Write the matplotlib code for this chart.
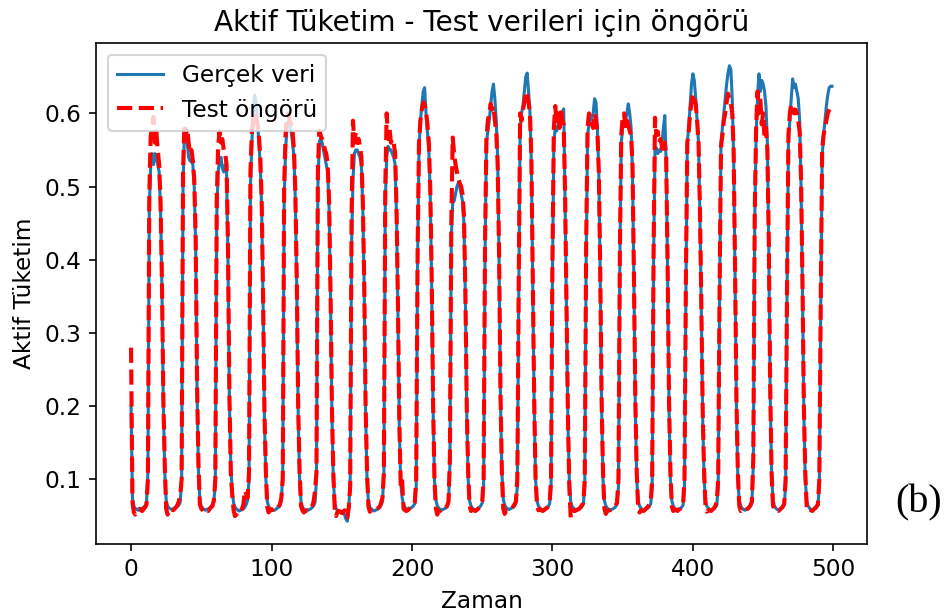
import numpy as np
import matplotlib.pyplot as plt

# Saatlik aktif tüketim, test dönemi (bir satır = bir gün)
gercek = [
    0.20, 0.075, 0.063, 0.061, 0.059, 0.058, 0.059, 0.060, 0.061, 0.062, 0.064, 0.068, 0.11, 0.47, 0.53, 0.545, 0.53, 0.545, 0.54, 0.53, 0.52, 0.47, 0.36, 0.20,
    0.11, 0.072, 0.064, 0.061, 0.060, 0.059, 0.060, 0.061, 0.062, 0.063, 0.065, 0.069, 0.10, 0.50, 0.575, 0.58, 0.56, 0.54, 0.535, 0.535, 0.53, 0.50, 0.42, 0.22,
    0.11, 0.071, 0.063, 0.061, 0.059, 0.058, 0.059, 0.060, 0.061, 0.063, 0.066, 0.070, 0.10, 0.46, 0.52, 0.535, 0.54, 0.525, 0.52, 0.53, 0.52, 0.40, 0.21, 0.12,
    0.085, 0.068, 0.062, 0.060, 0.058, 0.057, 0.058, 0.059, 0.060, 0.062, 0.066, 0.072, 0.10, 0.50, 0.56, 0.60, 0.625, 0.615, 0.59, 0.56, 0.53, 0.47, 0.34, 0.18,
    0.10, 0.070, 0.063, 0.060, 0.059, 0.058, 0.058, 0.059, 0.061, 0.062, 0.065, 0.070, 0.11, 0.48, 0.55, 0.58, 0.59, 0.585, 0.575, 0.56, 0.54, 0.48, 0.36, 0.19,
    0.10, 0.070, 0.062, 0.060, 0.058, 0.057, 0.058, 0.059, 0.060, 0.062, 0.064, 0.069, 0.10, 0.50, 0.56, 0.567, 0.56, 0.55, 0.54, 0.53, 0.52, 0.47, 0.35, 0.19,
    0.10, 0.068, 0.060, 0.058, 0.056, 0.055, 0.055, 0.056, 0.052, 0.046, 0.043, 0.060, 0.10, 0.42, 0.51, 0.545, 0.55, 0.55, 0.545, 0.54, 0.53, 0.47, 0.36, 0.19,
    0.10, 0.070, 0.062, 0.060, 0.058, 0.057, 0.058, 0.059, 0.060, 0.062, 0.065, 0.070, 0.11, 0.48, 0.54, 0.555, 0.55, 0.55, 0.545, 0.54, 0.53, 0.46, 0.33, 0.17,
    0.095, 0.075, 0.066, 0.062, 0.060, 0.059, 0.060, 0.061, 0.062, 0.064, 0.067, 0.09, 0.40, 0.55, 0.59, 0.61, 0.63, 0.635, 0.60, 0.575, 0.55, 0.49, 0.37, 0.20,
    0.10, 0.072, 0.064, 0.061, 0.059, 0.058, 0.059, 0.060, 0.061, 0.063, 0.068, 0.12, 0.43, 0.478, 0.48, 0.49, 0.50, 0.505, 0.50, 0.49, 0.48, 0.45, 0.35, 0.19,
    0.10, 0.071, 0.064, 0.061, 0.059, 0.058, 0.059, 0.060, 0.062, 0.064, 0.068, 0.09, 0.40, 0.56, 0.575, 0.59, 0.61, 0.63, 0.64, 0.62, 0.59, 0.54, 0.40, 0.21,
    0.11, 0.073, 0.065, 0.062, 0.060, 0.059, 0.060, 0.061, 0.062, 0.064, 0.068, 0.09, 0.35, 0.58, 0.60, 0.61, 0.63, 0.65, 0.655, 0.63, 0.60, 0.53, 0.37, 0.20,
    0.10, 0.071, 0.064, 0.061, 0.059, 0.058, 0.059, 0.060, 0.061, 0.063, 0.067, 0.09, 0.38, 0.56, 0.58, 0.576, 0.585, 0.59, 0.595, 0.60, 0.606, 0.48, 0.33, 0.18,
    0.10, 0.070, 0.063, 0.061, 0.059, 0.058, 0.059, 0.060, 0.061, 0.063, 0.067, 0.09, 0.40, 0.57, 0.585, 0.59, 0.595, 0.60, 0.62, 0.615, 0.58, 0.52, 0.38, 0.20,
    0.10, 0.071, 0.064, 0.061, 0.059, 0.058, 0.059, 0.060, 0.061, 0.063, 0.067, 0.09, 0.40, 0.56, 0.58, 0.585, 0.59, 0.60, 0.613, 0.60, 0.58, 0.52, 0.37, 0.20,
    0.10, 0.071, 0.064, 0.061, 0.059, 0.058, 0.059, 0.060, 0.061, 0.063, 0.067, 0.09, 0.40, 0.55, 0.553, 0.545, 0.55, 0.548, 0.56, 0.58, 0.597, 0.53, 0.38, 0.20,
    0.10, 0.071, 0.064, 0.061, 0.059, 0.058, 0.059, 0.060, 0.062, 0.065, 0.09, 0.35, 0.56, 0.58, 0.61, 0.64, 0.654, 0.645, 0.62, 0.59, 0.56, 0.46, 0.33, 0.18,
    0.10, 0.070, 0.063, 0.061, 0.059, 0.058, 0.059, 0.060, 0.062, 0.065, 0.09, 0.35, 0.56, 0.58, 0.60, 0.62, 0.64, 0.655, 0.665, 0.66, 0.62, 0.54, 0.38, 0.20,
    0.10, 0.071, 0.064, 0.061, 0.059, 0.058, 0.059, 0.060, 0.062, 0.064, 0.068, 0.12, 0.45, 0.57, 0.62, 0.654, 0.63, 0.645, 0.64, 0.63, 0.61, 0.56, 0.42, 0.22,
    0.11, 0.072, 0.064, 0.061, 0.059, 0.058, 0.059, 0.060, 0.062, 0.065, 0.09, 0.35, 0.56, 0.59, 0.62, 0.647, 0.635, 0.64, 0.63, 0.62, 0.59, 0.50, 0.36, 0.19,
    0.10, 0.071, 0.064, 0.061, 0.059, 0.058, 0.059, 0.060, 0.062, 0.065, 0.09, 0.33, 0.54, 0.57, 0.59, 0.61, 0.625, 0.635, 0.637, 0.637,
]

# Modelin test dönemi için öngörüleri
ongoru = [
    0.28, 0.07, 0.055, 0.052, 0.056, 0.058, 0.060, 0.058, 0.057, 0.060, 0.062, 0.066, 0.10, 0.49, 0.57, 0.58, 0.595, 0.56, 0.575, 0.55, 0.53, 0.48, 0.37, 0.21,
    0.12, 0.06, 0.052, 0.058, 0.060, 0.059, 0.058, 0.060, 0.062, 0.065, 0.070, 0.078, 0.10, 0.52, 0.585, 0.57, 0.58, 0.56, 0.545, 0.55, 0.535, 0.51, 0.43, 0.23,
    0.12, 0.066, 0.060, 0.058, 0.056, 0.058, 0.059, 0.057, 0.060, 0.062, 0.064, 0.072, 0.10, 0.48, 0.555, 0.575, 0.56, 0.565, 0.55, 0.545, 0.53, 0.42, 0.22, 0.11,
    0.08, 0.058, 0.050, 0.052, 0.057, 0.058, 0.057, 0.060, 0.066, 0.085, 0.080, 0.075, 0.11, 0.52, 0.575, 0.59, 0.60, 0.595, 0.585, 0.57, 0.54, 0.48, 0.35, 0.19,
    0.11, 0.062, 0.055, 0.060, 0.058, 0.059, 0.060, 0.058, 0.060, 0.063, 0.066, 0.075, 0.10, 0.50, 0.57, 0.595, 0.60, 0.59, 0.585, 0.575, 0.55, 0.49, 0.37, 0.20,
    0.11, 0.064, 0.058, 0.055, 0.057, 0.058, 0.057, 0.059, 0.061, 0.064, 0.070, 0.085, 0.11, 0.52, 0.576, 0.57, 0.565, 0.56, 0.55, 0.545, 0.53, 0.48, 0.36, 0.20,
    0.11, 0.060, 0.050, 0.056, 0.057, 0.056, 0.054, 0.055, 0.058, 0.052, 0.048, 0.062, 0.09, 0.46, 0.59, 0.56, 0.575, 0.56, 0.565, 0.555, 0.54, 0.48, 0.37, 0.20,
    0.11, 0.063, 0.056, 0.058, 0.057, 0.056, 0.058, 0.060, 0.061, 0.063, 0.068, 0.075, 0.11, 0.50, 0.60, 0.565, 0.58, 0.56, 0.565, 0.56, 0.545, 0.47, 0.34, 0.18,
    0.09, 0.098, 0.060, 0.058, 0.057, 0.058, 0.060, 0.062, 0.063, 0.065, 0.069, 0.10, 0.41, 0.56, 0.59, 0.605, 0.615, 0.612, 0.603, 0.585, 0.56, 0.50, 0.38, 0.21,
    0.10, 0.060, 0.052, 0.058, 0.057, 0.059, 0.058, 0.060, 0.062, 0.064, 0.070, 0.13, 0.45, 0.567, 0.545, 0.53, 0.52, 0.51, 0.505, 0.50, 0.49, 0.46, 0.36, 0.20,
    0.11, 0.064, 0.057, 0.059, 0.058, 0.057, 0.058, 0.060, 0.062, 0.066, 0.070, 0.10, 0.42, 0.565, 0.59, 0.60, 0.613, 0.605, 0.61, 0.59, 0.575, 0.53, 0.41, 0.22,
    0.11, 0.060, 0.053, 0.058, 0.058, 0.057, 0.059, 0.061, 0.063, 0.066, 0.070, 0.10, 0.37, 0.60, 0.59, 0.605, 0.615, 0.63, 0.625, 0.615, 0.60, 0.54, 0.38, 0.21,
    0.10, 0.066, 0.058, 0.060, 0.058, 0.057, 0.058, 0.060, 0.061, 0.064, 0.068, 0.10, 0.40, 0.58, 0.61, 0.585, 0.60, 0.58, 0.605, 0.59, 0.585, 0.49, 0.34, 0.19,
    0.09, 0.048, 0.056, 0.058, 0.057, 0.058, 0.059, 0.060, 0.062, 0.065, 0.068, 0.10, 0.42, 0.58, 0.60, 0.59, 0.585, 0.58, 0.60, 0.59, 0.575, 0.52, 0.39, 0.21,
    0.11, 0.060, 0.053, 0.057, 0.058, 0.058, 0.059, 0.060, 0.062, 0.064, 0.069, 0.10, 0.41, 0.57, 0.595, 0.60, 0.58, 0.59, 0.585, 0.576, 0.57, 0.53, 0.38, 0.21,
    0.11, 0.062, 0.055, 0.058, 0.058, 0.057, 0.059, 0.061, 0.063, 0.066, 0.070, 0.10, 0.41, 0.594, 0.57, 0.575, 0.56, 0.565, 0.555, 0.545, 0.56, 0.54, 0.39, 0.21,
    0.11, 0.063, 0.057, 0.059, 0.058, 0.057, 0.059, 0.060, 0.063, 0.066, 0.10, 0.37, 0.56, 0.575, 0.60, 0.615, 0.627, 0.62, 0.613, 0.59, 0.56, 0.47, 0.34, 0.19,
    0.11, 0.062, 0.056, 0.058, 0.058, 0.057, 0.059, 0.061, 0.064, 0.070, 0.10, 0.36, 0.555, 0.57, 0.59, 0.60, 0.615, 0.627, 0.62, 0.614, 0.60, 0.55, 0.39, 0.21,
    0.11, 0.064, 0.057, 0.059, 0.058, 0.057, 0.059, 0.060, 0.062, 0.065, 0.070, 0.13, 0.46, 0.58, 0.63, 0.60, 0.62, 0.585, 0.60, 0.567, 0.58, 0.55, 0.43, 0.23,
    0.11, 0.065, 0.058, 0.059, 0.058, 0.057, 0.059, 0.061, 0.063, 0.067, 0.10, 0.36, 0.57, 0.60, 0.613, 0.61, 0.60, 0.605, 0.60, 0.59, 0.575, 0.51, 0.37, 0.20,
    0.11, 0.064, 0.057, 0.059, 0.058, 0.057, 0.059, 0.061, 0.063, 0.066, 0.10, 0.34, 0.55, 0.57, 0.58, 0.59, 0.60, 0.605, 0.61, 0.61,
]

zaman = np.arange(len(gercek))

plt.rcParams["font.size"] = 11.3
plt.rcParams["axes.titlesize"] = 13.6

fig = plt.figure(figsize=(6.4325, 4.1622), dpi=148)
ax = fig.add_axes([96 / 952, 72 / 616, 771 / 952, 501 / 616])

ax.plot(zaman, gercek, label="Gerçek veri")
ax.plot(zaman, ongoru, "r--", linewidth=2, label="Test öngörü")

ax.set_title("Aktif Tüketim - Test verileri için öngörü")
ax.set_xlabel("Zaman")
ax.set_ylabel("Aktif Tüketim")
ax.legend(loc="upper left")

# panel etiketi
fig.text(895 / 952, 1 - 503 / 616, "(b)", family="Liberation Serif",
         fontsize=19.5, va="center", ha="left")

fig.savefig("out.png", dpi=148)
